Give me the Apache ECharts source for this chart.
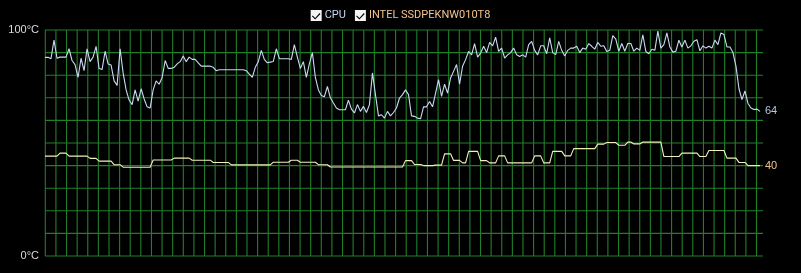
<!DOCTYPE html>
<html>
<head>
<meta charset="utf-8">
<script src="https://cdn.jsdelivr.net/npm/echarts@6/dist/echarts.min.js"></script>
<style>
html,body{margin:0;padding:0;background:#000;}
#chart{width:801px;height:273px;}
</style>
</head>
<body>
<div id="chart"></div>
<script>
// Sensor names
const seriesNames = ['CPU', 'INTEL SSDPEKNW010T8'];

// CPU temperature samples (°C), oldest to newest
const cpuTemps = [
  87.9,87.9,87.3,95.5,87.5,88,88,88,91.7,86.5,
  84.7,79,87.5,82,91.7,86,88,92.8,83,82.5,
  90.6,85,84.5,77.5,75.5,91.7,81,73.5,69,67,
  73.5,68.5,74,69.5,66,65.5,73.5,77.5,76,79,
  86.5,83,83,83.5,85,86,88.5,86,88,87,
  87,85.5,84,84,84,84,83.5,82,82.4,82.4,
  82.4,82.4,82.4,82.4,82.4,82.4,82.4,82,80.5,79,
  83.5,86,91,87,85.5,85.8,86.1,91.7,87.3,87.3,
  87.3,87.3,87,93.5,88,83,86,79,85,90,
  79,73.5,71,70.5,75,70,67.7,65.5,64.7,64.7,
  64.7,69,65,63.3,67,64,66.2,63.5,67,81,
  71.4,62,62.5,61,64,62,63.5,65.5,69.9,71.4,
  73.5,71.4,62,61.8,61,60.7,66,66,68.4,66,
  72,78,70.6,76,72.1,78.8,81.7,84.7,76,84,
  86.9,90.5,89,94,88,89.8,92.8,90,94.5,93,
  96.8,90.5,92,87.6,89,90,92,89,88.3,89,
  88,93.5,95,91,89,93,93,89.5,96.5,90,
  89.1,95,91,88.5,91,92,92,92.8,90,92,
  91.5,94,92.8,91.5,94.5,92.8,93,90.5,91,97.5,
  96,90.6,94,90.6,94,94,90.6,92,91,97.9,
  90.5,89.5,91.5,91,99.5,92,93.5,98.7,92.5,90.2,
  90.6,95.5,92.5,95.5,92,93,95,95.7,90.8,93,
  92,92.8,92,95.5,93.5,98.7,98,92.5,92.5,90,
  84,74,69.2,73,67.5,65.5,64.8,65,64
];

// SSD temperature samples (°C), same timeline
const ssdTemps = [
  44.2,44.2,44.2,44.2,44.2,45.5,45.5,45.5,44.2,44.2,
  44.2,44.2,44.2,44.2,44.2,43.2,43.2,43.2,42,42,
  42,42,42,40.4,40.4,40.4,39.3,39.3,39.3,39.3,
  39.3,39.3,39.3,39.3,39.3,39.3,42.5,42.5,42.5,42.5,
  42.5,42.5,42.5,43.3,43.3,43.3,43.3,43.3,43.3,42.4,
  42.4,42.4,42.4,42.4,42.4,42.4,41.4,41.4,41.4,41.4,
  41.4,41.4,40.3,40.3,40.3,40.3,40.3,40.3,40.3,40.3,
  40.3,40.3,40.3,40.3,40.3,40.3,41.5,41.5,41.5,41.5,
  41.5,41.5,42.4,42.4,42.4,41.5,41.5,41.5,41.5,41.5,
  41.5,40.4,40.4,40.4,40.4,39.4,39.4,39.4,39.4,39.4,
  39.4,39.4,39.4,39.4,39.4,39.4,39.4,39.4,39.4,39.4,
  39.4,39.4,39.4,39.4,39.4,39.4,39.4,39.4,39.4,39.4,
  42.2,42.2,42.2,40.5,40.5,40.5,40,40,40,40,
  40.2,40.2,40.2,45.2,45.2,45.2,42.3,42.3,42.3,41.2,
  41.2,46.3,46.3,46.3,46.3,42.2,42.2,42.2,41.2,41.2,
  41.2,44.3,44.3,44.3,41.2,41.2,41.2,41.2,41.2,41.2,
  41.2,41.2,41.2,44.3,44.3,44.3,41.2,41.2,41.2,46.3,
  46.3,46.3,46.3,44.3,44.3,44.3,47.5,47.5,47.5,47.5,
  47.5,47.5,47.5,47.5,49.5,49.5,49.5,50.2,50.2,50.2,
  50.2,49,49,49,50.4,50.4,49.6,49.6,49.6,50.4,
  50.4,50.4,50.4,50.4,50.4,50.4,44,44,44,44,
  44,44,45.5,45.5,45.5,45.5,45.5,45.5,44,44,
  44,46.7,46.7,46.7,46.7,46.7,46.7,43.3,43.3,43.3,
  43.3,41.4,41.4,41.4,40,40,40,40,40
];

// Y-axis tick labels (only the extremes are labelled)
const yTickLabels = { 100: '100°C', 0: '0°C' };

// Vertical grid columns (time divisions) and horizontal grid rows (°C)
const vGridCols = [0,1,2,3,4,5,6,7,8,9,10,11,12,13,14,15,16,17,18,19,20,21,22,23,24,25,26,27,28,29,30,31,32,33,34,35,36,37,38,39,40,41,42,43,44,45,46,47,48,49,50,51,52,53,54,55,56,57,58,59,60,61,62,63,64,65,66,67];
const hGridRows = [0,10,20,30,40,50,60,70,80,90,100];

const chart = echarts.init(document.getElementById('chart'), null, { renderer: 'canvas' });

const gridGreen = '#20802a';
const checkIcon = 'path://M0 0L16 0L16 16L0 16Z M1.8 9.2L6.5 13.8L14.2 5.7L13 4.5L6.5 11.5L3 8Z';
const plotWidth = 718;      // px, sets vertical grid density
const gridStep = 10.615;    // px between vertical grid lines

const option = {
  backgroundColor: '#000',
  animation: false,
  legend: {
    top: 5,
    left: 'center',
    icon: checkIcon,
    itemWidth: 11,
    itemHeight: 11,
    itemGap: 9,
    itemStyle: { color: '#f4f4f4' },
    textStyle: { fontSize: 11, fontFamily: 'Roboto, "Liberation Sans", sans-serif', padding: [1, 0, 0, -2] },
    data: [
      { name: seriesNames[0], textStyle: { color: '#c8d4f2' } },
      { name: seriesNames[1], textStyle: { color: '#f2c48e' } }
    ]
  },
  grid: { left: 45, right: 38, top: 30, bottom: 17 },
  xAxis: [
    { type: 'value', min: 0, max: cpuTemps.length, show: false, splitLine: { show: false } },
    { type: 'value', min: 0, max: plotWidth / gridStep, interval: 1, show: false, splitLine: { show: false } }
  ],
  yAxis: {
    type: 'value', min: 0, max: 100, interval: 10,
    axisLine: { show: false }, axisTick: { show: false },
    axisLabel: {
      margin: 6, color: '#dcdcdc', fontSize: 11, fontFamily: '"Liberation Sans", Arial, sans-serif',
      formatter: v => (yTickLabels[v] !== undefined ? yTickLabels[v] : '')
    },
    splitLine: { show: false }
  },
  series: [
    {
      type: 'custom', xAxisIndex: 1, yAxisIndex: 0, silent: true, z: 1,
      data: vGridCols,
      renderItem: (params, api) => {
        const top = api.coord([api.value(0), 100]);
        const bot = api.coord([api.value(0), 0]);
        const x = top[0] + 0.3;
        return { type: 'line', shape: { x1: x, y1: top[1], x2: x, y2: bot[1] },
                 style: { stroke: gridGreen, lineWidth: 1.1 } };
      }
    },
    {
      type: 'custom', xAxisIndex: 1, yAxisIndex: 0, silent: true, z: 1,
      data: hGridRows,
      renderItem: (params, api) => {
        const cs = params.coordSys;
        const y = api.coord([0, api.value(0)])[1];
        return { type: 'line', shape: { x1: cs.x, y1: y, x2: cs.x + cs.width, y2: y },
                 style: { stroke: gridGreen, lineWidth: 1.1 } };
      },
      encode: { y: 0 }
    },
    {
      name: seriesNames[0], type: 'line', xAxisIndex: 0, z: 3,
      data: cpuTemps.map((v, i) => [i, v]),
      showSymbol: false, symbol: 'none',
      color: '#c8daf4',
      lineStyle: { color: '#c8daf4', width: 1.1 },
      endLabel: {
        show: true, distance: 5, color: '#b6c6de', fontSize: 11,
        fontFamily: '"Liberation Sans", Arial, sans-serif',
        formatter: p => Math.round(p.value[1])
      }
    },
    {
      name: seriesNames[1], type: 'line', xAxisIndex: 0, z: 3,
      data: ssdTemps.map((v, i) => [i, v]),
      showSymbol: false, symbol: 'none',
      color: '#f2f0b8',
      lineStyle: { color: '#f2f0b8', width: 1.1 },
      endLabel: {
        show: true, distance: 5, color: '#f0c48e', fontSize: 11,
        fontFamily: '"Liberation Sans", Arial, sans-serif',
        formatter: p => Math.round(p.value[1])
      }
    }
  ]
};
chart.setOption(option);
</script>
</body>
</html>
